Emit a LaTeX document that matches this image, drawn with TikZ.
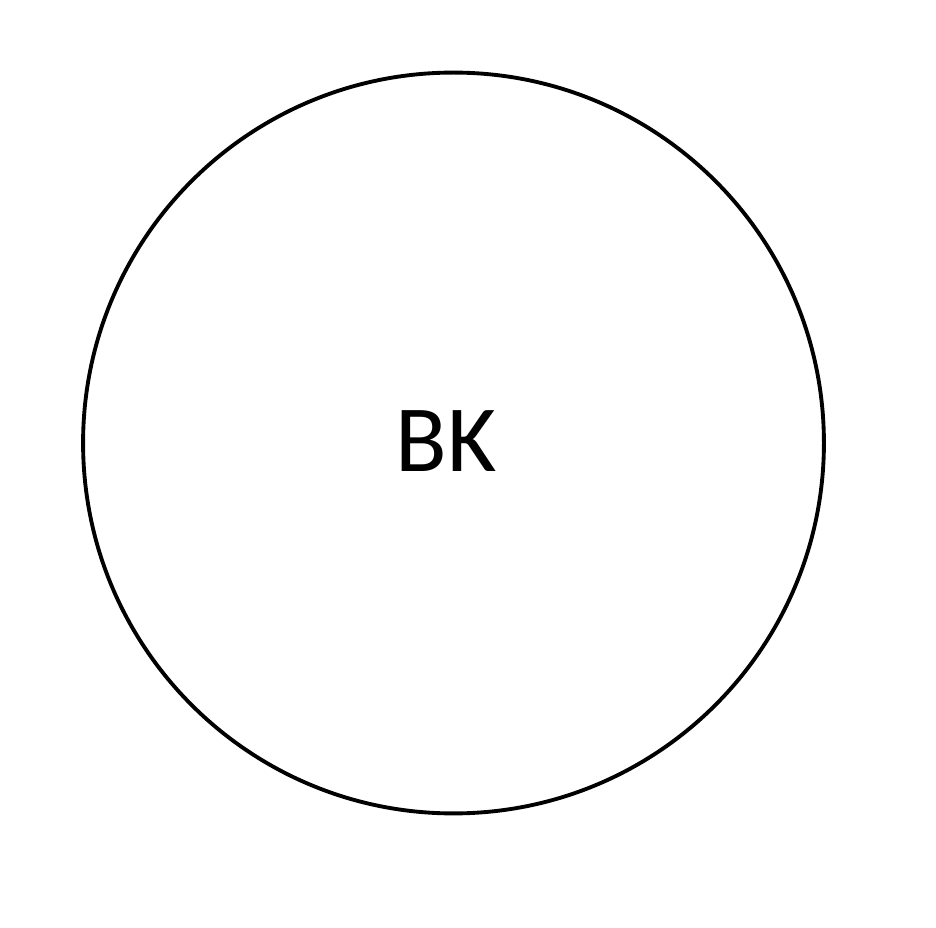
\documentclass[tikz,border=0pt]{standalone}
\usepackage{fontspec}
\setmainfont{Carlito}
\usetikzlibrary{positioning}
\tikzset{
  ring/.style={draw=black, line width=2.2pt, circle, minimum size=14.82cm, inner sep=0pt},
  label/.style={font=\fontsize{54}{60}\selectfont, text=black, inner sep=0pt}
}
\begin{document}
\begin{tikzpicture}[x=0.02cm,y=-0.02cm]
  \useasboundingbox (0,0) rectangle (936,928);
  % the one circle
  \node[ring] (bk) at (453.5,443) {};
  \node[label] (bktext) at (446,441) {BK};
\end{tikzpicture}
\end{document}
